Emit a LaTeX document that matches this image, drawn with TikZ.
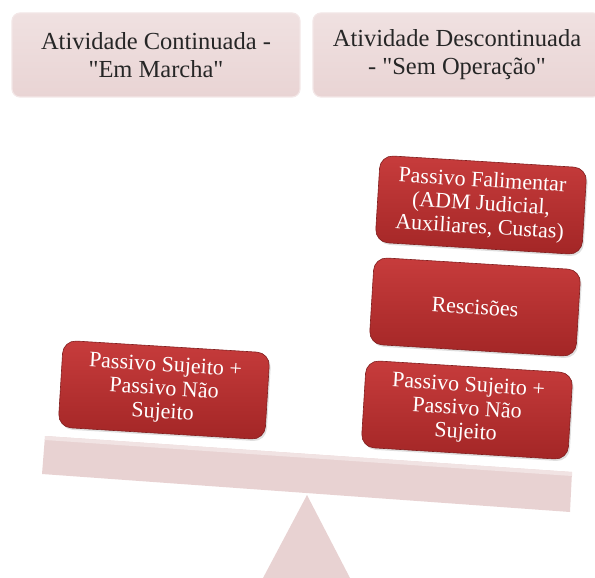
\documentclass[tikz,border=0pt]{standalone}
\usepackage{fontspec}
\setmainfont{Liberation Serif}
\usetikzlibrary{shadows}
\definecolor{topfill}{HTML}{E9D4D4}
\definecolor{topedge}{HTML}{F3E7E7}
\definecolor{redtop}{HTML}{C73C3C}
\definecolor{redbot}{HTML}{A32626}
\definecolor{beamcol}{HTML}{E8D2D2}
\definecolor{beamlight}{HTML}{F1E3E3}
\tikzset{
  headbox/.style={draw=topedge, line width=1.2pt, top color=topfill!70!white, bottom color=topfill,
    rounded corners=8pt, minimum width=288pt, minimum height=84pt, align=center,
    font=\fontsize{24.5}{28}\selectfont, text=black!85},
  redbox/.style={draw=redbot!80!black, line width=0.6pt, top color=redtop, bottom color=redbot,
    rounded corners=13pt, minimum width=207pt, minimum height=87pt, align=center,
    font=\fontsize{22}{23.5}\selectfont, text=white, rotate=-3.5,
    drop shadow={shadow xshift=1.5pt, shadow yshift=-2pt, opacity=0.25}},
}
\begin{document}
\begin{tikzpicture}[x=1pt,y=-1pt]
\useasboundingbox (0,0) rectangle (595,578);
% header boxes
\node[headbox] (h1) at (156,55) {Atividade Continuada -\\\textquotedbl Em Marcha\textquotedbl};
\node[headbox] (h2) at (457,55) {Atividade Descontinuada\\- \textquotedbl Sem Operação\textquotedbl};
% fulcrum
\fill[beamcol] (307,495) -- (350,578) -- (263,578) -- cycle;
% beam
\fill[beamcol] (45,436) -- (572,472) -- (570,512) -- (42,474) -- cycle;
\fill[beamlight] (45,436) -- (572,472) -- (572,476) -- (45,440) -- cycle;
% red boxes
\node[redbox] (l1) at (164,390) {Passivo Sujeito +\\Passivo Não\\Sujeito};
\node[redbox] (r1) at (467,410) {Passivo Sujeito +\\Passivo Não\\Sujeito};
\node[redbox] (r2) at (475,307) {Rescisões};
\node[redbox] (r3) at (481,205) {Passivo Falimentar\\(ADM Judicial,\\Auxiliares, Custas)};
\end{tikzpicture}
\end{document}
